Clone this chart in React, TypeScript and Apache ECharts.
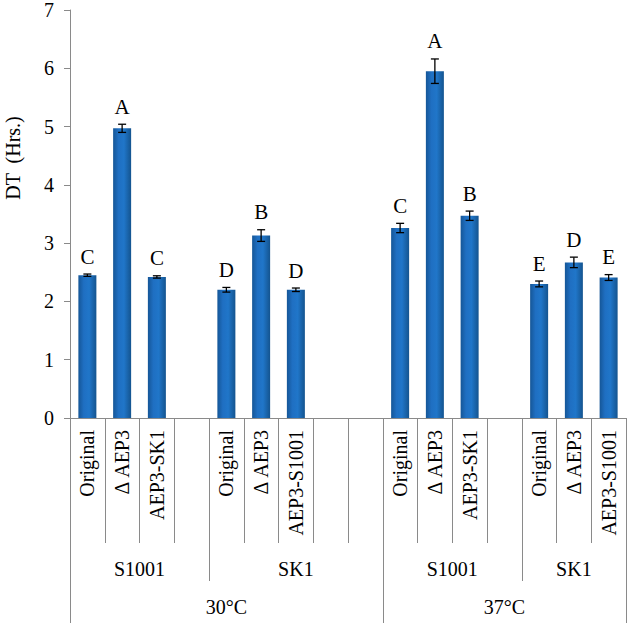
import { useEffect, useRef } from 'react';
import * as echarts from 'echarts';

// one slot per category on the lowest level of the axis ('' = empty spacer slot)
const slotLabels = [
  'Original', 'Δ AEP3', 'AEP3-SK1', '',
  'Original', 'Δ AEP3', 'AEP3-S1001', '', '',
  'Original', 'Δ AEP3', 'AEP3-SK1', '',
  'Original', 'Δ AEP3', 'AEP3-S1001',
];
const dtValues = [2.45, 4.97, 2.42, null, 2.2, 3.13, 2.2, null, null, 3.26, 5.95, 3.47, null, 2.3, 2.67, 2.41];
const dtErrors = [0.02, 0.07, 0.02, null, 0.04, 0.1, 0.03, null, null, 0.08, 0.21, 0.08, null, 0.05, 0.09, 0.05];
const letters = ['C', 'A', 'C', '', 'D', 'B', 'D', '', '', 'C', 'A', 'B', '', 'E', 'D', 'E'];

const strainGroups = [
  { name: 'S1001', span: 4 },
  { name: 'SK1', span: 5 },
  { name: 'S1001', span: 4 },
  { name: 'SK1', span: 3 },
];
const tempGroups = [
  { name: '30°C', span: 9 },
  { name: '37°C', span: 7 },
];

const yTicks = [0, 1, 2, 3, 4, 5, 6, 7];

const FONT = '"Liberation Serif", "Times New Roman", serif';
const GREY = '#8a8a8a';

// boundaries and centres of grouped labels, in slot units
function spans(groups: { name: string; span: number }[]) {
  const bounds: number[] = [0];
  const centers: number[] = [];
  let pos = 0;
  groups.forEach((g) => {
    centers.push(pos + g.span / 2);
    pos += g.span;
    bounds.push(pos);
  });
  return { bounds, centers };
}

export default function App() {
  const chartRef = useRef<HTMLDivElement>(null);

  useEffect(() => {
    document.body.style.margin = '0';
    document.body.style.overflow = 'hidden';
    if (!chartRef.current) return;
    const chart = echarts.init(chartRef.current, null, { renderer: 'svg' });

    const n = slotLabels.length;
    const strain = spans(strainGroups);
    const temp = spans(tempGroups);

    const errData = dtValues
      .map((v, i) => (v == null ? null : [i, v - (dtErrors[i] as number), v + (dtErrors[i] as number)]))
      .filter((d) => d !== null) as number[][];

    const option: echarts.EChartsOption = {
      animation: false,
      grid: { left: 70, right: 4, top: 10, bottom: 205, containLabel: false, outerBoundsMode: 'none' } as any,
      xAxis: [
        {
          type: 'category',
          data: slotLabels,
          axisLine: { lineStyle: { color: GREY, width: 1 } },
          axisTick: { show: true, length: 125, interval: 0, lineStyle: { color: GREY } },
          axisLabel: {
            interval: 0,
            rotate: 90,
            margin: 12,
            fontFamily: FONT,
            fontSize: 20,
            color: '#000',
          },
        },
        {
          type: 'value',
          min: 0,
          max: n,
          position: 'bottom',
          axisLine: { show: false },
          splitLine: { show: false },
          axisTick: {
            show: true,
            length: 163,
            customValues: strain.bounds.slice(1, -1),
            lineStyle: { color: GREY },
          },
          axisLabel: {
            customValues: strain.centers,
            margin: 141,
            fontFamily: FONT,
            fontSize: 20,
            color: '#000',
            formatter: (val: number) => strainGroups[strain.centers.indexOf(val)]?.name ?? '',
          },
        } as any,
        {
          type: 'value',
          min: 0,
          max: n,
          position: 'bottom',
          axisLine: { show: false },
          splitLine: { show: false },
          axisTick: {
            show: true,
            length: 205,
            customValues: temp.bounds,
            lineStyle: { color: GREY },
          },
          axisLabel: {
            customValues: temp.centers,
            margin: 179,
            fontFamily: FONT,
            fontSize: 20,
            color: '#000',
            formatter: (val: number) => tempGroups[temp.centers.indexOf(val)]?.name ?? '',
          },
        } as any,
      ],
      yAxis: {
        type: 'value',
        min: yTicks[0],
        max: yTicks[yTicks.length - 1],
        interval: 1,
        axisLine: { show: true, lineStyle: { color: GREY } },
        axisTick: { show: true, length: 6, lineStyle: { color: GREY } },
        splitLine: { show: false },
        axisLabel: { margin: 16, fontFamily: FONT, fontSize: 20, color: '#000' },
      },
      graphic: [
        {
          type: 'text',
          x: 13,
          y: 158,
          rotation: Math.PI / 2,
          style: {
            text: 'DT  (Hrs.)',
            fontFamily: FONT,
            fontSize: 20,
            fill: '#000',
            align: 'center',
            verticalAlign: 'middle',
          },
        },
      ],
      series: [
        {
          type: 'bar',
          data: dtValues,
          barWidth: 18,
          itemStyle: {
            color: new echarts.graphic.LinearGradient(0, 0, 1, 0, [
              { offset: 0, color: '#155697' },
              { offset: 0.3, color: '#1f6fc2' },
              { offset: 0.6, color: '#2076c9' },
              { offset: 1, color: '#14548f' },
            ]),
          },
        },
        {
          type: 'custom',
          data: errData,
          z: 10,
          renderItem: (params: any, api: any) => {
            const idx = api.value(0);
            const top = api.coord([idx, api.value(2)]);
            const bottom = api.coord([idx, api.value(1)]);
            const cap = 4;
            const style = { stroke: '#000', lineWidth: 1.3 };
            return {
              type: 'group',
              children: [
                { type: 'line', shape: { x1: top[0], y1: top[1], x2: bottom[0], y2: bottom[1] }, style },
                { type: 'line', shape: { x1: top[0] - cap, y1: top[1], x2: top[0] + cap, y2: top[1] }, style },
                { type: 'line', shape: { x1: bottom[0] - cap, y1: bottom[1], x2: bottom[0] + cap, y2: bottom[1] }, style },
                {
                  type: 'text',
                  x: top[0],
                  y: top[1] - 7,
                  style: {
                    text: letters[idx],
                    fontFamily: FONT,
                    fontSize: 21,
                    fill: '#000',
                    align: 'center',
                    verticalAlign: 'bottom',
                  },
                },
              ],
            };
          },
        },
      ],
    };

    chart.setOption(option);
    return () => chart.dispose();
  }, []);

  return <div ref={chartRef} style={{ width: 630, height: 623 }} />;
}
